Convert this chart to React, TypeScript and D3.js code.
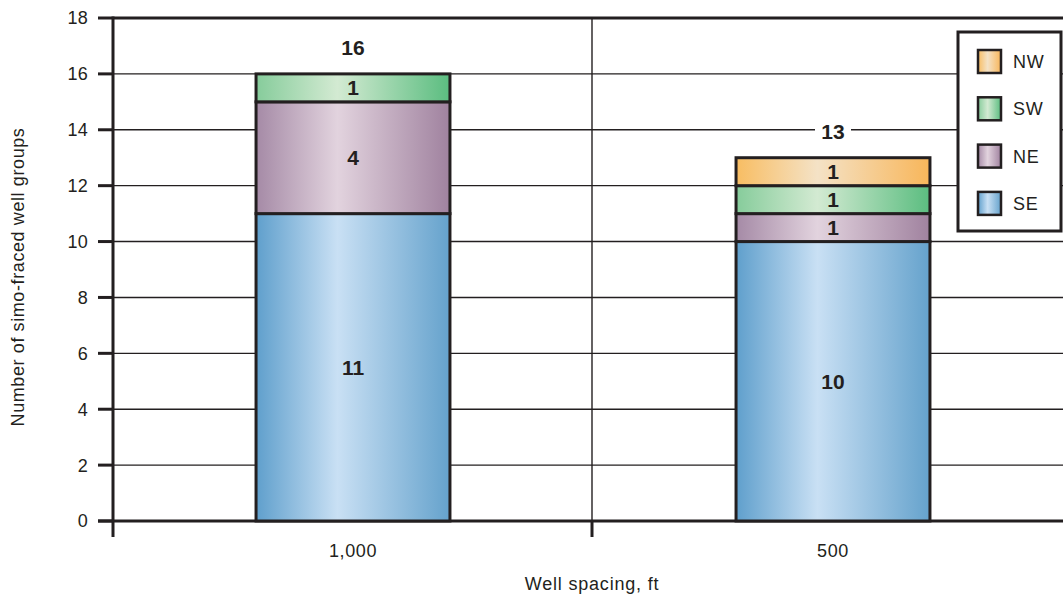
import React from "react";
import * as d3 from "d3";

const categories = ["1,000", "500"];
const seriesNames = ["SE", "NE", "SW", "NW"];
const seSeries = [11, 10];
const neSeries = [4, 1];
const swSeries = [1, 1];
const nwSeries = [0, 1];
const yTicks = [0, 2, 4, 6, 8, 10, 12, 14, 16, 18];
const legendOrder = ["NW", "SW", "NE", "SE"];

// [edge-left, center, edge-right] stops for the cylinder-like shading
const shades: Record<string, [string, string, string]> = {
  SE: ["#5f9fcc", "#c9e0f4", "#65a2cc"],
  NE: ["#a58aa6", "#e2d3de", "#a0829f"],
  SW: ["#86cc9b", "#d3ead2", "#5bbd80"],
  NW: ["#f8bd62", "#f4e2c6", "#f8b65a"],
};

const W = 1063;
const H = 596;
const FONT = "'Liberation Sans', Arial, Helvetica, sans-serif";
const INK = "#231f20";

export default function App() {
  const x = d3.scaleBand<string>().domain(categories).range([113, 1073]).padding(0);
  const y = d3.scaleLinear().domain([0, 18]).range([521, 18]);
  const barW = x.bandwidth() * 0.404;

  const rows = categories.map((c, i) => ({
    cat: c,
    SE: seSeries[i],
    NE: neSeries[i],
    SW: swSeries[i],
    NW: nwSeries[i],
  }));
  const stacked = d3.stack<any>().keys(seriesNames)(rows);
  const totals = rows.map((r) => seriesNames.reduce((s, k) => s + (r as any)[k], 0));

  const legendX = 958;
  const legendTop = 32;
  const legendBottom = 231;

  return (
    <svg width={W} height={H} style={{ position: "absolute", left: 0, top: 0 }}>
      <defs>
        {seriesNames.map((k) => (
          <linearGradient key={k} id={`g-${k}`} x1="0" x2="1" y1="0" y2="0">
            <stop offset="0" stopColor={shades[k][0]} />
            <stop offset="0.42" stopColor={shades[k][1]} />
            <stop offset="1" stopColor={shades[k][2]} />
          </linearGradient>
        ))}
      </defs>
      <rect x={0} y={0} width={W} height={H} fill="#fff" />

      {/* horizontal gridlines */}
      {yTicks.map((t) => (
        <line
          key={`g${t}`}
          x1={113}
          x2={W}
          y1={y(t)}
          y2={y(t)}
          stroke={INK}
          strokeWidth={t === 18 ? 3 : 1.4}
        />
      ))}
      {/* vertical divider between categories */}
      <line x1={592} x2={592} y1={y(18)} y2={y(0)} stroke={INK} strokeWidth={1.4} />

      {/* y ticks and labels */}
      {yTicks.map((t) => (
        <g key={`t${t}`}>
          <line x1={98} x2={113} y1={y(t)} y2={y(t)} stroke={INK} strokeWidth={3} />
          <text
            x={88}
            y={y(t)}
            dy="0.36em"
            textAnchor="end"
            fontFamily={FONT}
            fontSize={18}
            letterSpacing={0.3}
            fill={INK}
          >
            {t}
          </text>
        </g>
      ))}

      {/* axes */}
      <line x1={113} x2={113} y1={y(18) - 1.5} y2={537} stroke={INK} strokeWidth={3} />
      <line x1={98} x2={W} y1={y(0)} y2={y(0)} stroke={INK} strokeWidth={3} />
      <line x1={592} x2={592} y1={y(0)} y2={537} stroke={INK} strokeWidth={3} />

      {/* stacked bars */}
      {stacked.map((layer) =>
        layer.map((d, i) => {
          const v = d[1] - d[0];
          if (v <= 0) return null;
          const cx = (x(categories[i]) as number) + x.bandwidth() / 2;
          const y0 = y(d[0]);
          const y1 = y(d[1]);
          return (
            <g key={`${layer.key}-${i}`}>
              <rect
                x={cx - barW / 2}
                y={y1}
                width={barW}
                height={y0 - y1}
                fill={`url(#g-${layer.key})`}
                stroke={INK}
                strokeWidth={3}
              />
              <text
                x={cx}
                y={(y0 + y1) / 2}
                dy="0.36em"
                textAnchor="middle"
                fontFamily={FONT}
                fontWeight="bold"
                fontSize={21}
                fill={INK}
              >
                {v}
              </text>
            </g>
          );
        })
      )}

      {/* totals above bars */}
      {totals.map((t, i) => {
        const cx = (x(categories[i]) as number) + x.bandwidth() / 2;
        const ty = y(t) - 26;
        return (
          <g key={`tot${i}`}>
            <rect x={cx - 18} y={ty - 12} width={36} height={24} fill="#fff" />
            <text
              x={cx}
              y={ty}
              dy="0.36em"
              textAnchor="middle"
              fontFamily={FONT}
              fontWeight="bold"
              fontSize={21}
              fill={INK}
            >
              {t}
            </text>
          </g>
        );
      })}

      {/* category labels */}
      {categories.map((c) => (
        <text
          key={c}
          x={(x(c) as number) + x.bandwidth() / 2}
          y={557}
          textAnchor="middle"
          fontFamily={FONT}
          fontSize={18}
          letterSpacing={0.6}
          fill={INK}
        >
          {c}
        </text>
      ))}

      {/* axis titles */}
      <text
        x={592}
        y={590}
        textAnchor="middle"
        fontFamily={FONT}
        fontSize={18}
        letterSpacing={0.8}
        fill={INK}
      >
        Well spacing, ft
      </text>
      <text
        transform={`translate(24, 277) rotate(-90)`}
        textAnchor="middle"
        fontFamily={FONT}
        fontSize={18}
        letterSpacing={0.6}
        fill={INK}
      >
        Number of simo-fraced well groups
      </text>

      {/* legend */}
      <rect
        x={legendX}
        y={legendTop}
        width={1061 - legendX}
        height={legendBottom - legendTop}
        fill="#fff"
        stroke={INK}
        strokeWidth={3}
      />
      {legendOrder.map((k, i) => {
        const sy = 50 + i * 47.3;
        return (
          <g key={`lg${k}`}>
            <rect
              x={978}
              y={sy}
              width={23}
              height={23}
              fill={`url(#g-${k})`}
              stroke={INK}
              strokeWidth={2.5}
            />
            <text
              x={1013}
              y={sy + 11.5}
              dy="0.36em"
              fontFamily={FONT}
              fontSize={18}
              letterSpacing={0.8}
              fill={INK}
            >
              {k}
            </text>
          </g>
        );
      })}
    </svg>
  );
}
